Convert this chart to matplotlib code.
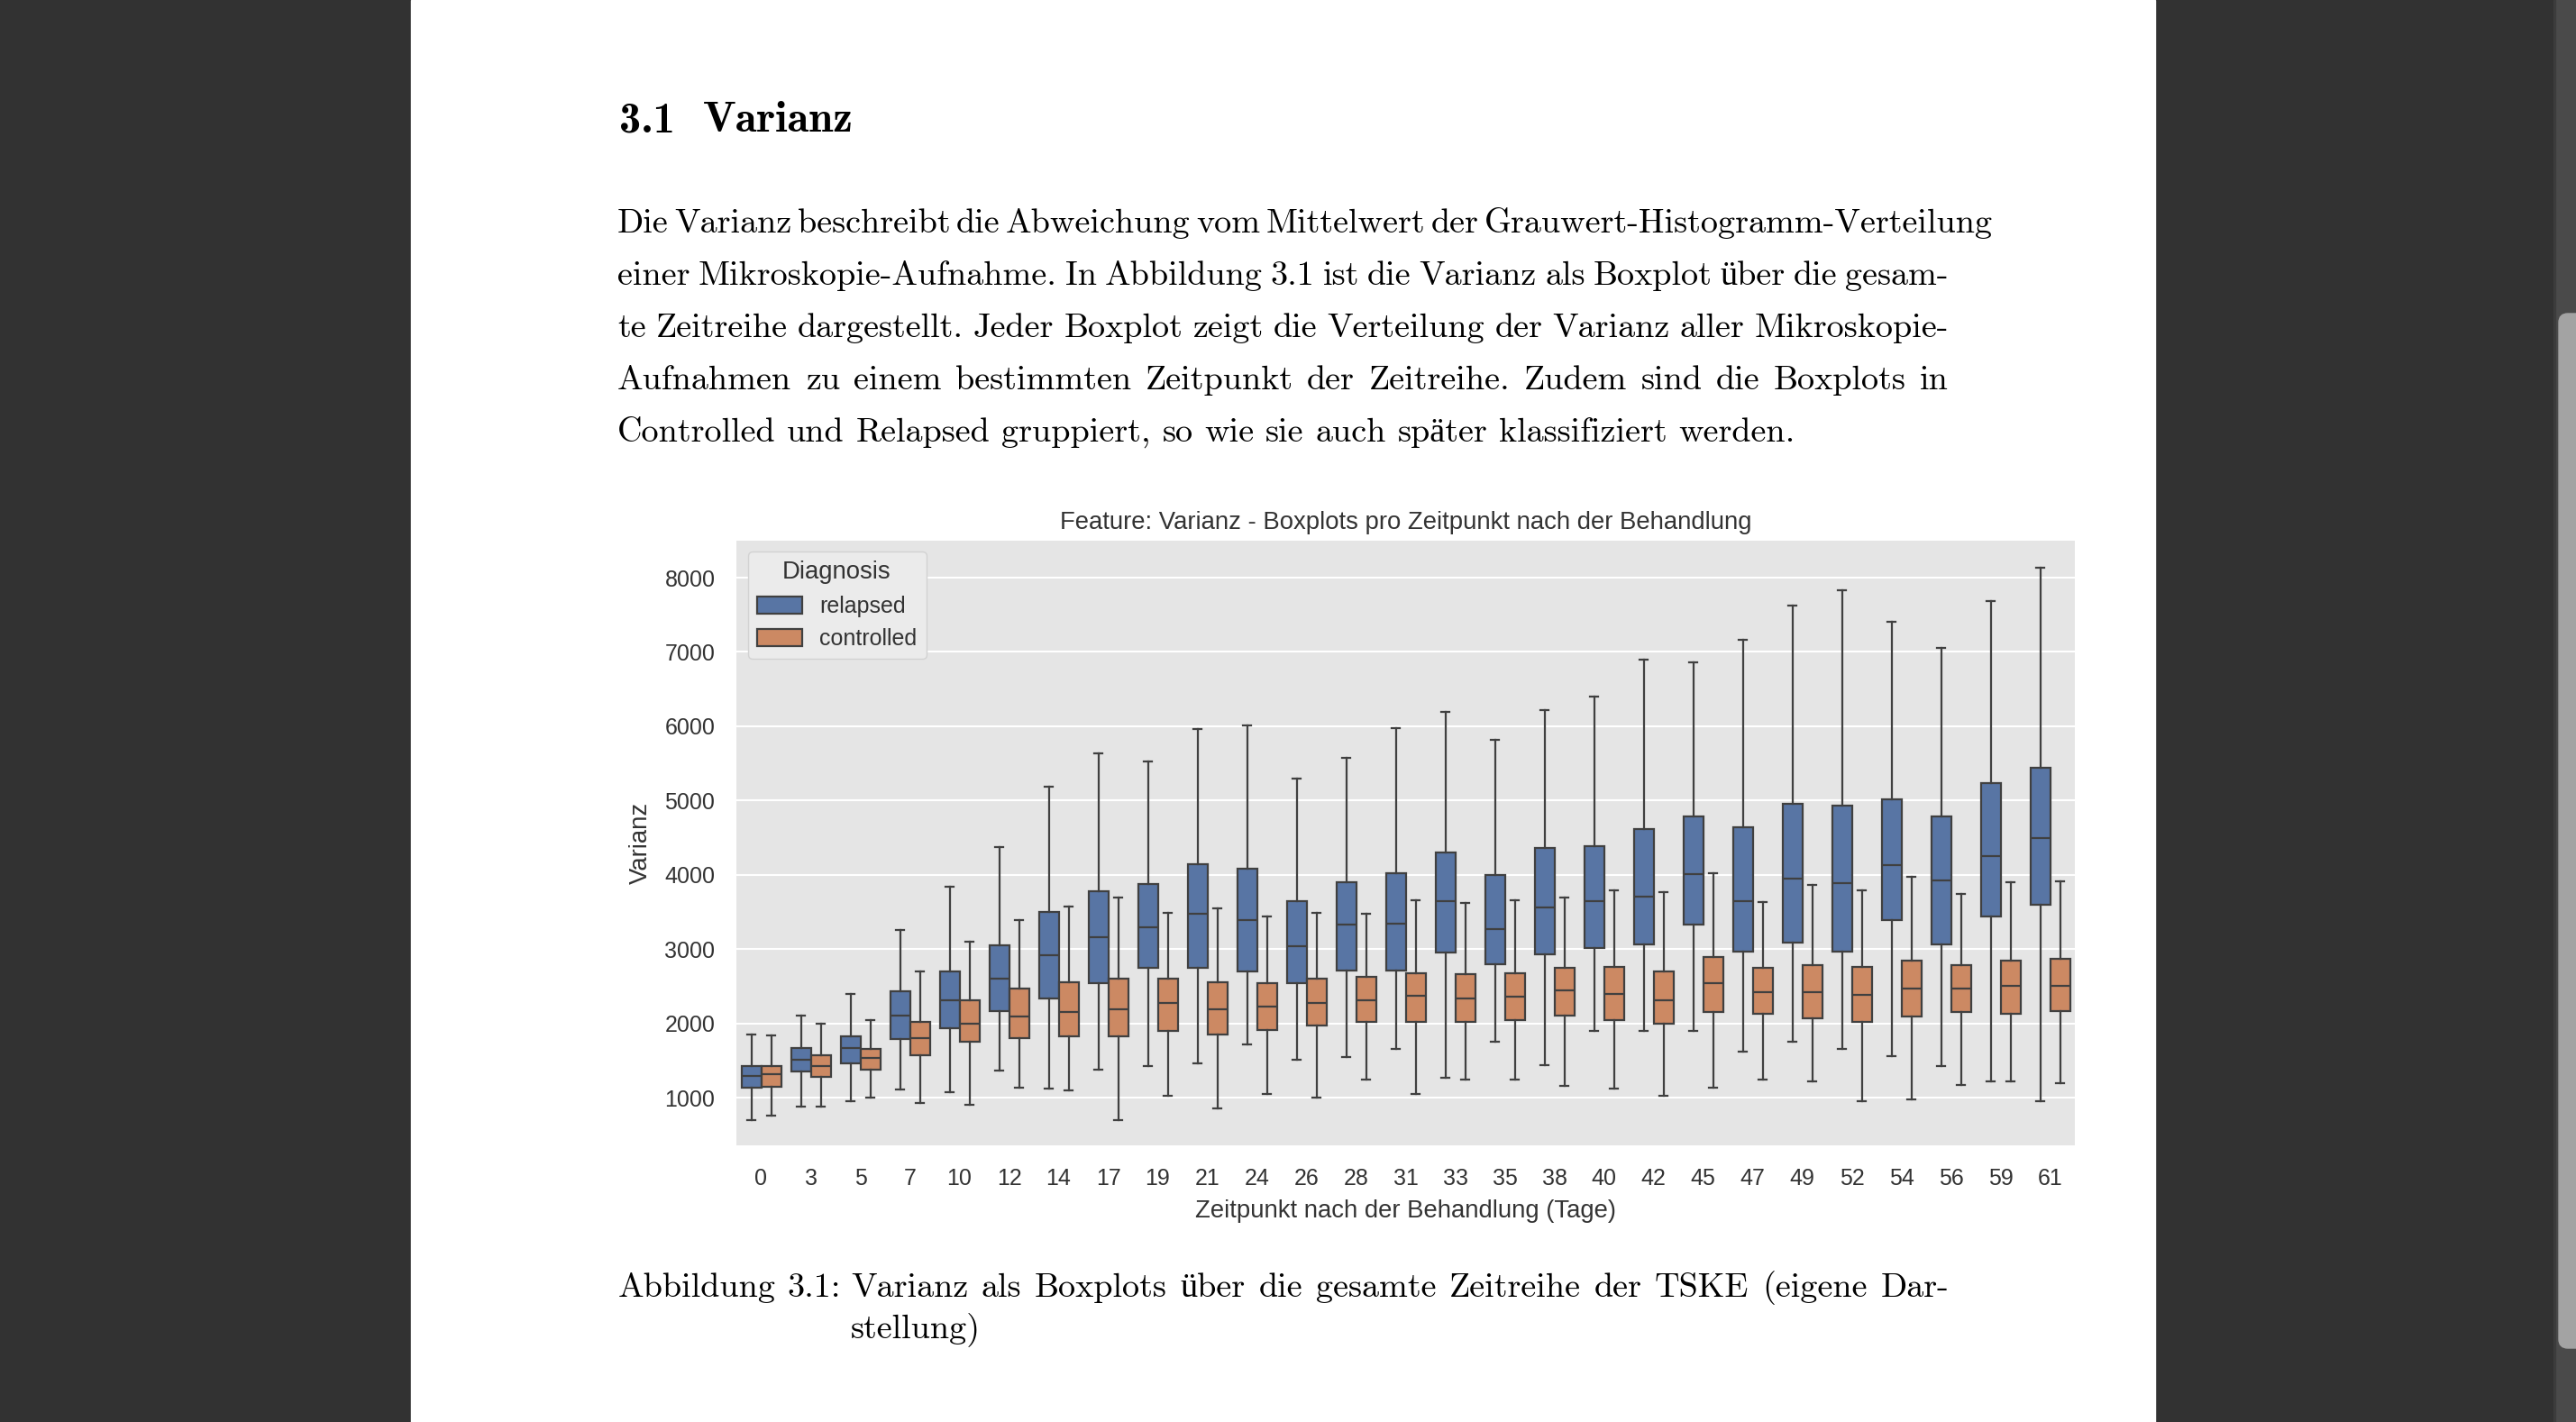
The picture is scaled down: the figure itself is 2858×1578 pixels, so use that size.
import matplotlib
matplotlib.use("Agg")
import matplotlib.pyplot as plt
from matplotlib.patches import Patch, Rectangle, FancyBboxPatch

# ---- chart data ----
days = [0, 3, 5, 7, 10, 12, 14, 17, 19, 21, 24, 26, 28, 31, 33, 35, 38, 40,
        42, 45, 47, 49, 52, 54, 56, 59, 61]

rel_lo = [700, 880, 950, 1110, 1070, 1360, 1120, 1380, 1420, 1460, 1720, 1510,
          1550, 1660, 1270, 1750, 1440, 1900, 1900, 1900, 1620, 1750, 1660,
          1560, 1430, 1220, 950]
rel_q1 = [1130, 1355, 1460, 1790, 1930, 2170, 2330, 2535, 2750, 2750, 2700,
          2535, 2705, 2705, 2950, 2790, 2935, 3015, 3060, 3330, 2970, 3085,
          2965, 3390, 3060, 3435, 3595]
rel_med = [1290, 1505, 1665, 2110, 2315, 2600, 2915, 3160, 3290, 3475, 3395,
           3035, 3325, 3345, 3640, 3265, 3555, 3640, 3700, 4005, 3640, 3950,
           3885, 4135, 3925, 4255, 4500]
rel_q3 = [1425, 1670, 1830, 2435, 2700, 3055, 3500, 3775, 3880, 4145, 4080,
          3645, 3900, 4025, 4305, 4000, 4355, 4390, 4620, 4785, 4645, 4950,
          4925, 5020, 4785, 5240, 5445]
rel_hi = [1855, 2105, 2395, 3255, 3840, 4375, 5185, 5635, 5520, 5965, 6005,
          5300, 5580, 5970, 6195, 5820, 6220, 6405, 6895, 6860, 7165, 7620,
          7830, 7410, 7060, 7690, 8135]

con_lo = [760, 880, 1000, 925, 905, 1135, 1095, 700, 1030, 860, 1050, 1005,
          1240, 1050, 1245, 1245, 1160, 1120, 1030, 1135, 1240, 1215, 950,
          970, 1170, 1215, 1195]
con_q1 = [1150, 1280, 1375, 1565, 1755, 1795, 1820, 1820, 1895, 1855, 1915,
          1965, 2020, 2025, 2025, 2045, 2110, 2045, 2000, 2150, 2130, 2065,
          2025, 2090, 2150, 2125, 2165]
con_med = [1310, 1430, 1535, 1805, 1990, 2090, 2150, 2190, 2270, 2190, 2225,
           2270, 2315, 2365, 2340, 2355, 2445, 2400, 2315, 2540, 2420, 2415,
           2380, 2465, 2465, 2505, 2505]
con_q3 = [1425, 1565, 1660, 2020, 2305, 2470, 2555, 2600, 2600, 2555, 2535,
          2600, 2625, 2680, 2660, 2680, 2745, 2765, 2700, 2890, 2745, 2780,
          2765, 2845, 2780, 2845, 2870]
con_hi = [1835, 2000, 2040, 2700, 3100, 3385, 3575, 3690, 3485, 3550, 3440,
          3485, 3475, 3655, 3615, 3655, 3695, 3795, 3765, 4025, 3630, 3860,
          3795, 3970, 3740, 3900, 3915]

groups = ["relapsed", "controlled"]
colors = ["#5875a4", "#cc8963"]

heading_num = "3.1"
heading_txt = "Varianz"
paragraph = [
    "Die Varianz beschreibt die Abweichung vom Mittelwert der Grauwert-Histogramm-Verteilung",
    "einer Mikroskopie-Aufnahme. In Abbildung 3.1 ist die Varianz als Boxplot über die gesam-",
    "te Zeitreihe dargestellt. Jeder Boxplot zeigt die Verteilung der Varianz aller Mikroskopie-",
    "Aufnahmen zu einem bestimmten Zeitpunkt der Zeitreihe. Zudem sind die Boxplots in",
    "Controlled und Relapsed gruppiert, so wie sie auch später klassifiziert werden.",
]
caption_lbl = "Abbildung 3.1:"
caption = ["Varianz als Boxplots über die gesamte Zeitreihe der TSKE (eigene Dar-",
           "stellung)"]

W, H = 2858, 1578
fig = plt.figure(figsize=(W / 100, H / 100), dpi=100, facecolor="#323232")

# page / viewer background, drawn in pixel coordinates
bg = fig.add_axes([0, 0, 1, 1], zorder=0)
bg.set_xlim(0, W)
bg.set_ylim(H, 0)
bg.axis("off")
bg.add_patch(Rectangle((456, 0), 2391 - 456, H, color="white"))
bg.add_patch(Rectangle((2834, 0), W - 2834, H, color="#4a4a4a"))
bg.add_patch(Rectangle((2833, 0), 2, H, color="#3c3c3c"))
bg.add_patch(FancyBboxPatch((2839, 348), 30, 1496 - 348,
                            boxstyle="round,pad=0,rounding_size=10",
                            color="#a3a3a3"))

serif = ["cmr10", "Liberation Serif"]
body_size = 27.5
renderer = fig.canvas.get_renderer()


def put_line(text, x0, y, x1=None, size=body_size, family=serif):
    words = text.split(" ")
    objs = [bg.text(0, y, w, fontsize=size, family=family, va="baseline",
                    ha="left", color="black") for w in words]
    widths = [o.get_window_extent(renderer).width for o in objs]
    if x1 is None or len(words) < 2:
        gap = size * 100 / 72 * 0.333
    else:
        gap = (x1 - x0 - sum(widths)) / (len(words) - 1)
    x = x0
    for o, w in zip(objs, widths):
        o.set_x(x)
        x += w + gap


bold = ["cmb10", "DejaVu Serif"]
bg.text(687, 146, heading_num, fontsize=35, family=bold,
        va="baseline", ha="left")
bg.text(780, 146, heading_txt, fontsize=35, family=bold,
        va="baseline", ha="left")

base_y = [258, 316, 374, 432, 490]
right_x = [2211, 2162, 2162, 2162, None]
for line, y, xr in zip(paragraph, base_y, right_x):
    put_line(line, 685, y, xr)

put_line(caption_lbl, 686, 1439)
put_line(caption[0], 944, 1439, 2162)
put_line(caption[1], 944, 1484)

# ---- the chart ----
ax = fig.add_axes([817 / W, 1 - 1271 / H, (2302 - 817) / W, (1271 - 600) / H],
                  zorder=1)
ax.set_facecolor("#e5e5e5")
for s in ax.spines.values():
    s.set_visible(False)

line_c = "#404040"
lw = 1.6
sets = [(rel_lo, rel_q1, rel_med, rel_q3, rel_hi),
        (con_lo, con_q1, con_med, con_q3, con_hi)]
for k, (lo, q1, med, q3, hi) in enumerate(sets):
    stats = [dict(whislo=lo[i], q1=q1[i], med=med[i], q3=q3[i], whishi=hi[i])
             for i in range(len(days))]
    pos = [i - 0.2 + 0.4 * k for i in range(len(days))]
    ax.bxp(stats, positions=pos, widths=0.4, capwidths=0.17, showfliers=False,
           patch_artist=True,
           boxprops=dict(facecolor=colors[k], edgecolor=line_c, linewidth=lw),
           whiskerprops=dict(color=line_c, linewidth=lw),
           capprops=dict(color=line_c, linewidth=lw),
           medianprops=dict(color=line_c, linewidth=lw),
           zorder=3)

ax.set_xlim(-0.5, len(days) - 0.5)
ax.set_ylim(357, 8498)
ax.set_xticks(range(len(days)))
ax.set_xticklabels([str(d) for d in days])
ax.set_yticks([1000, 2000, 3000, 4000, 5000, 6000, 7000, 8000])
ax.grid(axis="y", color="white", linewidth=1.5, zorder=0)
ax.grid(axis="x", visible=False)
ax.set_axisbelow(True)

sans = "Liberation Sans"
ax.tick_params(length=0, pad=17, labelsize=18, labelcolor="#333333")
ax.tick_params(axis="x", pad=18)
for lab in ax.get_xticklabels() + ax.get_yticklabels():
    lab.set_family(sans)
ax.set_title("Feature: Varianz - Boxplots pro Zeitpunkt nach der Behandlung",
             fontsize=19.8, family=sans, color="#333333", pad=9)
ax.set_xlabel("Zeitpunkt nach der Behandlung (Tage)", fontsize=19.8,
              family=sans, color="#333333", labelpad=8)
ax.set_ylabel("Varianz", fontsize=19.8, family=sans, color="#333333",
              labelpad=10)

handles = [Patch(facecolor=c, edgecolor=line_c, linewidth=lw, label=g)
           for g, c in zip(groups, colors)]
leg = ax.legend(handles=handles, title="Diagnosis", loc="upper left",
                prop={"family": sans, "size": 18}, title_fontsize=19.8,
                handlelength=2.0, handleheight=0.8, borderaxespad=0.5,
                labelspacing=0.5,
                facecolor="#ebebeb", edgecolor="#d2d2d2", framealpha=1)
leg.get_title().set_family(sans)
leg.get_title().set_color("#333333")
for t in leg.get_texts():
    t.set_color("#333333")

fig.savefig("out.png", dpi=100, facecolor=fig.get_facecolor())
